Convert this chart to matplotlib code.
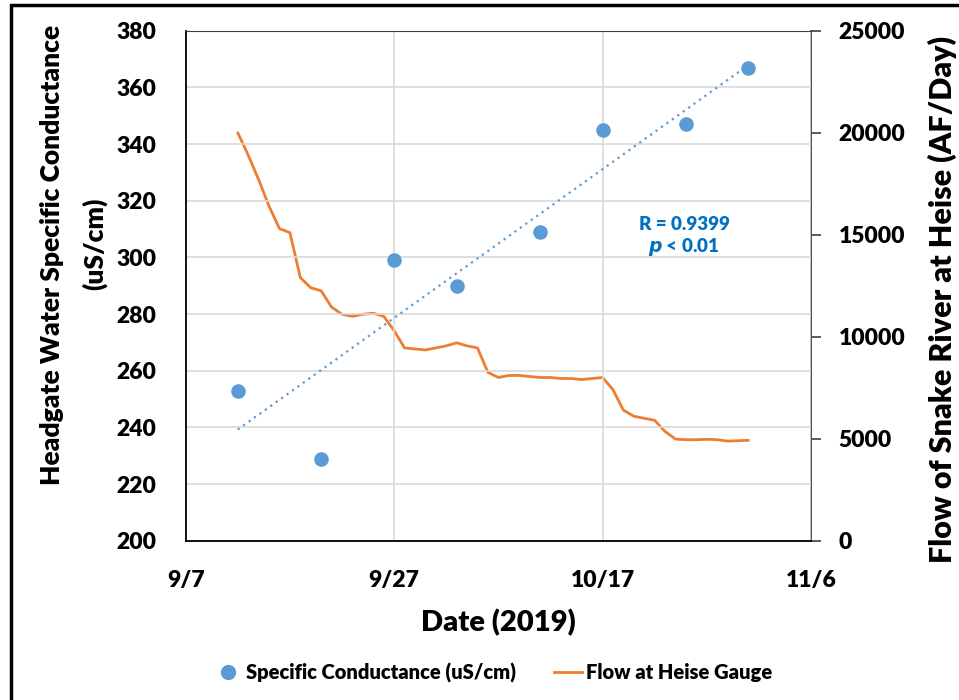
import matplotlib.pyplot as plt
import numpy as np
import pandas as pd
import matplotlib.dates as mdates
from matplotlib.patches import Rectangle
from matplotlib.lines import Line2D

plt.rcParams['font.family'] = ['Lato', 'DejaVu Sans']
W = 'heavy'

# Specific conductance samples (uS/cm)
sample_dates = pd.to_datetime(['2019-09-12', '2019-09-20', '2019-09-27', '2019-10-03',
                               '2019-10-11', '2019-10-17', '2019-10-25', '2019-10-31'])
conductance = [253, 229, 299, 290, 309, 345, 347, 367]

# Daily flow at Heise gauge (AF/Day), 9/12 - 10/31
flow_dates = pd.date_range('2019-09-12', '2019-10-31', freq='D')
flow = [20000, 18900, 17700, 16400, 15300, 15100, 12900, 12400, 12250, 11450,
        11100, 11000, 11100, 11150, 11000, 10300, 9450, 9400, 9350, 9450,
        9550, 9700, 9550, 9450, 8250, 8000, 8100, 8100, 8050, 8000,
        8000, 7950, 7950, 7900, 7950, 8000, 7400, 6400, 6100, 6000,
        5900, 5350, 4980, 4950, 4950, 4970, 4950, 4880, 4900, 4920]

x_ticks = pd.to_datetime(['2019-09-07', '2019-09-27', '2019-10-17', '2019-11-06'])
left_ticks = np.arange(200, 381, 20)
right_ticks = np.arange(0, 25001, 5000)

blue = '#5B9BD5'
orange = '#ED7D31'
grid = '#D9D9D9'

fig = plt.figure(figsize=(9.59, 7.0), dpi=100)
ax = fig.add_axes([0.1936, 0.2276, 0.6521, 0.7285])
ax2 = ax.twinx()

# flow line (secondary axis)
ax2.plot(flow_dates, flow, color=orange, lw=2.0, zorder=3,
         solid_joinstyle='round', solid_capstyle='round')

# conductance points + linear trend
ax.scatter(sample_dates, conductance, s=110, color=blue, zorder=4, linewidths=0)
xn = mdates.date2num(sample_dates)
slope, icpt = np.polyfit(xn, conductance, 1)
ax.plot(sample_dates[[0, -1]], slope * xn[[0, -1]] + icpt, ls=(0, (1, 2)),
        color=blue, lw=1.6, zorder=3)
r = np.corrcoef(xn, conductance)[0, 1]

ax.set_zorder(ax2.get_zorder() + 1)
ax.patch.set_visible(False)

ax.set_xlim(x_ticks[0], x_ticks[-1])
ax.set_xticks(x_ticks)
ax.set_xticklabels([f'{d.month}/{d.day}' for d in x_ticks])
ax.set_ylim(200, 380)
ax.set_yticks(left_ticks)
ax2.set_ylim(0, 25000)
ax2.set_yticks(right_ticks)

ax.grid(True, color=grid, lw=1.2)
ax.set_axisbelow(True)
ax.tick_params(axis='both', length=0, labelsize=16.5, pad=21)
ax2.tick_params(axis='y', length=7, width=1.2, color='#404040', labelsize=16.5, pad=13)
for lab in ax.get_xticklabels() + ax.get_yticklabels() + ax2.get_yticklabels():
    lab.set_fontweight(W)

for s in ['left', 'bottom']:
    ax.spines[s].set_color('black')
    ax.spines[s].set_linewidth(1.3)
ax.spines['top'].set_color('#404040')
ax.spines['top'].set_linewidth(0.8)
ax.spines['right'].set_visible(False)
for s in ['left', 'bottom', 'top']:
    ax2.spines[s].set_visible(False)
ax2.spines['right'].set_color('#404040')
ax2.spines['right'].set_linewidth(1.3)

# left axis title, two lines placed as in the original
fig.text(0.0542, 0.636, 'Headgate Water Specific Conductance', rotation=90,
         ha='center', va='center', fontsize=19, fontweight=W)
fig.text(0.0985, 0.652, '(uS/cm)', rotation=90,
         ha='center', va='center', fontsize=19, fontweight=W)
ax2.set_ylabel('Flow of Snake River at Heise (AF/Day)', fontsize=22, fontweight=W)
ax2.yaxis.set_label_coords(1.186, 0.474)
ax.set_xlabel('Date (2019)', fontsize=21, fontweight=W, labelpad=13)

ax.text(0.797, 0.621, f'R = {r:.4f}', transform=ax.transAxes, ha='center',
        va='center', color='#0070C0', fontsize=13.5, fontweight=W)
ax.text(0.797, 0.576, r'$\bfit{p}$ < 0.01', transform=ax.transAxes, ha='center',
        va='center', color='#0070C0', fontsize=13.5, fontweight=W)

handles = [Line2D([], [], marker='o', ls='none', color=blue, markersize=10),
           Line2D([], [], color=orange, lw=2.0)]
fig.legend(handles, ['Specific Conductance (uS/cm)', 'Flow at Heise Gauge'],
           loc='center', bbox_to_anchor=(0.514, 0.039), ncol=2, frameon=False,
           prop={'size': 14.5, 'weight': W}, handlelength=1.4,
           columnspacing=1.9, handletextpad=0.2)

fig.patches.append(Rectangle((0.0115, -0.01), 1.2, 1.003, transform=fig.transFigure,
                             fill=False, edgecolor='black', lw=2.5))

fig.savefig('out.png', dpi=100)
